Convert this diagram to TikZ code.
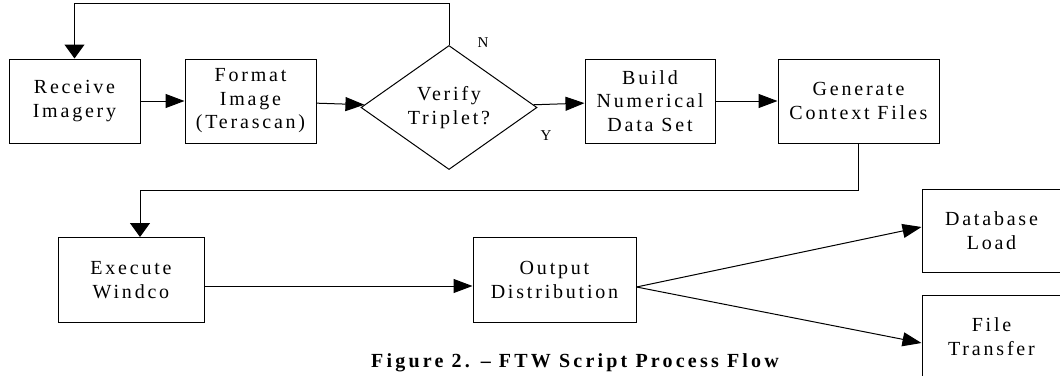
\documentclass[tikz,border=0pt]{standalone}
\usepackage{fontspec}
\setmainfont{Liberation Serif}
\newfontfamily\spacedfont{Liberation Serif}[LetterSpace=14]
\newfontfamily\captionfont{Liberation Serif}[LetterSpace=16]
\usepackage{tikz}
\usetikzlibrary{positioning,arrows.meta,shapes.geometric}
\tikzset{
  procbox/.style={draw, line width=1pt, align=center, inner sep=2pt,
                  font=\spacedfont\fontsize{20}{23.5}\selectfont},
  decision/.style={diamond, draw, line width=1pt, align=center, inner sep=0pt,
                   minimum width=176pt, minimum height=116pt,
                   font=\spacedfont\fontsize{20}{23.5}\selectfont},
  flowarrow/.style={-{Triangle[length=19pt,width=14pt]}, line width=1pt},
  droparrow/.style={-{Triangle[length=14pt,width=20pt]}, line width=1pt},
  yesno/.style={inner sep=0pt, font=\fontsize{15}{17}\selectfont},
}

\begin{document}
\begin{tikzpicture}[x=1pt,y=-1pt]
\useasboundingbox (0,0) rectangle (1060,375);

% top row
\node[procbox, minimum width=131pt, minimum height=84pt] (recv) at (74.5,101) {Receive\\Imagery};
\node[procbox, minimum width=131pt, minimum height=84pt] (fmt) at (250.5,101) {Format\\Image\\(Terascan)};
\node[decision] (verify) at (449,107.5) {Verify\\Triplet?};
\node[procbox, minimum width=130pt, minimum height=84pt] (build) at (650,101) {Build\\Numerical\\Data Set};
\node[procbox, minimum width=161pt, minimum height=84pt] (gen) at (858.5,101) {Generate\\Context Files};
\node[yesno] (nlbl) at (483,43) {N};
\node[yesno] (ylbl) at (546,136) {Y};

% bottom row
\node[procbox, minimum width=146pt, minimum height=85pt] (exec) at (131,280) {Execute\\Windco};
\node[procbox, minimum width=163pt, minimum height=85pt] (out) at (554.5,280) {Output\\Distribution};
\node[procbox, minimum width=139pt, minimum height=83pt] (db) at (991.5,230.5) {Database\\Load};
\node[procbox, minimum width=139pt, minimum height=83pt] (xfer) at (991.5,336.5) {File\\Transfer};

\node[font=\captionfont\bfseries\fontsize{20}{22}\selectfont] (caption) at (575,363) {Figure 2. – FTW Script Process Flow};

% connectors
\draw[flowarrow] (recv) -- (fmt);
\draw[flowarrow] (fmt) -- (verify);
\draw[flowarrow] (verify) -- (build);
\draw[flowarrow] (build) -- (gen);
\draw[droparrow] (verify.north) -- ++(0,-41.5) -| (recv.north);
\draw[droparrow] (gen.south) -- ++(0,47) -| ([xshift=9pt]exec.north);
\draw[flowarrow] ([yshift=-6pt]exec.east) -- ([yshift=-6pt]out.west);
\draw[flowarrow] ([yshift=-7pt]out.east) -- ([yshift=3.5pt]db.west);
\draw[flowarrow] ([yshift=-7pt]out.east) -- ([yshift=-6.5pt]xfer.west);
\end{tikzpicture}
\end{document}
